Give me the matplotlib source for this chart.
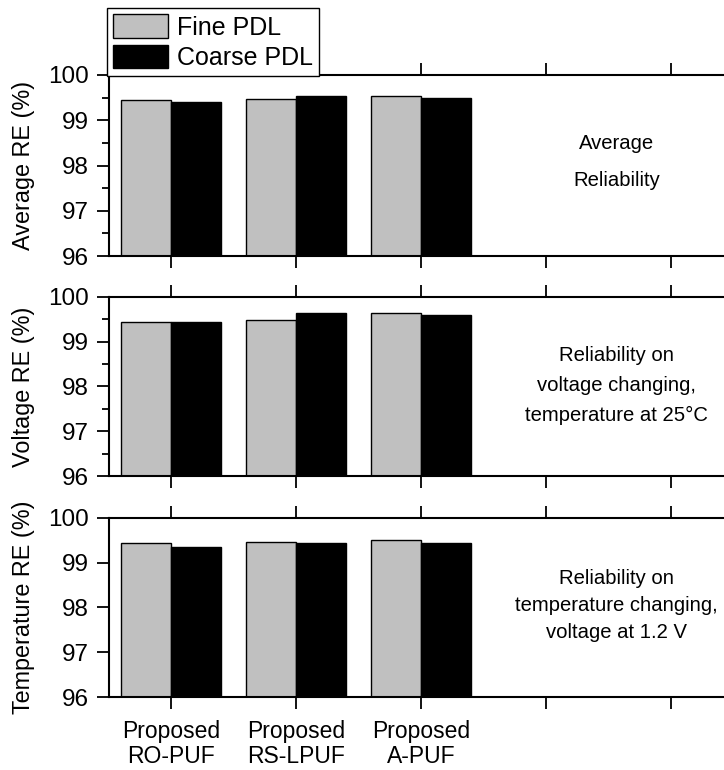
import matplotlib.pyplot as plt
from matplotlib.ticker import MultipleLocator

plt.rcParams['font.family'] = ['Liberation Sans', 'DejaVu Sans']

categories = ["Proposed\nRO-PUF", "Proposed\nRS-LPUF", "Proposed\nA-PUF"]
series_names = ["Fine PDL", "Coarse PDL"]

# reliability values (%)
avg_fine = [99.45, 99.46, 99.54]
avg_coarse = [99.40, 99.53, 99.50]
volt_fine = [99.44, 99.47, 99.64]
volt_coarse = [99.44, 99.64, 99.60]
temp_fine = [99.45, 99.47, 99.50]
temp_coarse = [99.35, 99.45, 99.44]

panel_ylabels = ["Average RE (%)", "Voltage RE (%)", "Temperature RE (%)"]
panel_notes = ["Average\nReliability",
               "Reliability on\nvoltage changing,\ntemperature at 25\u00b0C",
               "Reliability on\ntemperature changing,\nvoltage at 1.2 V"]
panel_data = [(avg_fine, avg_coarse), (volt_fine, volt_coarse), (temp_fine, temp_coarse)]

fig = plt.figure(figsize=(7.24, 7.7), dpi=100)

# axes boxes in figure fractions (the right spine runs past the edge)
boxes = [(0.1499, 0.6675, 0.8633, 0.2351),
         (0.1499, 0.3818, 0.8633, 0.2329),
         (0.1499, 0.0948, 0.8633, 0.2325)]
note_spacing = [2.15, 1.72, 1.55]
note_y = [0.52, 0.505, 0.51]

w = 0.4
x = [1, 2, 3]
axes = []
for i, (box, (fine, coarse)) in enumerate(zip(boxes, panel_data)):
    ax = fig.add_axes(box)
    axes.append(ax)
    ax.bar([p - w / 2 for p in x], fine, w, color='#c0c0c0', edgecolor='black',
           linewidth=1.0, label=series_names[0])
    ax.bar([p + w / 2 for p in x], coarse, w, color='black', edgecolor='black',
           linewidth=1.0, label=series_names[1])
    ax.set_xlim(0.5, 5.5)
    ax.set_ylim(96, 100)
    ax.set_xticks([1, 2, 3, 4, 5])
    ax.yaxis.set_major_locator(MultipleLocator(1))
    if i < 2:
        ax.yaxis.set_minor_locator(MultipleLocator(0.5))
    ax.tick_params(axis='both', which='major', direction='out', length=8.5, width=1.3,
                   labelsize=17.5, top=True, pad=6)
    ax.tick_params(axis='y', which='minor', direction='out', length=5, width=1.3)
    for s in ax.spines.values():
        s.set_linewidth(1.5)
    if i == 2:
        ax.set_xticklabels(categories + ["", ""], fontsize=16.5, linespacing=1.1)
        ax.tick_params(axis='x', pad=8)
    else:
        ax.set_xticklabels([])
    ax.set_ylabel(panel_ylabels[i], fontsize=16.8)
    ax.yaxis.set_label_coords(-0.118, 0.5)
    ax.text(0.813, note_y[i], panel_notes[i], transform=ax.transAxes, ha='center',
            va='center', fontsize=14.6, linespacing=note_spacing[i])

leg = axes[0].legend(loc='lower left', bbox_to_anchor=(-0.003, 0.995), borderaxespad=0,
                     fontsize=18, handlelength=2.2, handleheight=1.05, labelspacing=0.2,
                     handletextpad=0.35, borderpad=0.25, fancybox=False, framealpha=1,
                     edgecolor='black')
leg.get_frame().set_linewidth(1.0)
leg.set_zorder(10)

fig.savefig('out.png', dpi=100)
